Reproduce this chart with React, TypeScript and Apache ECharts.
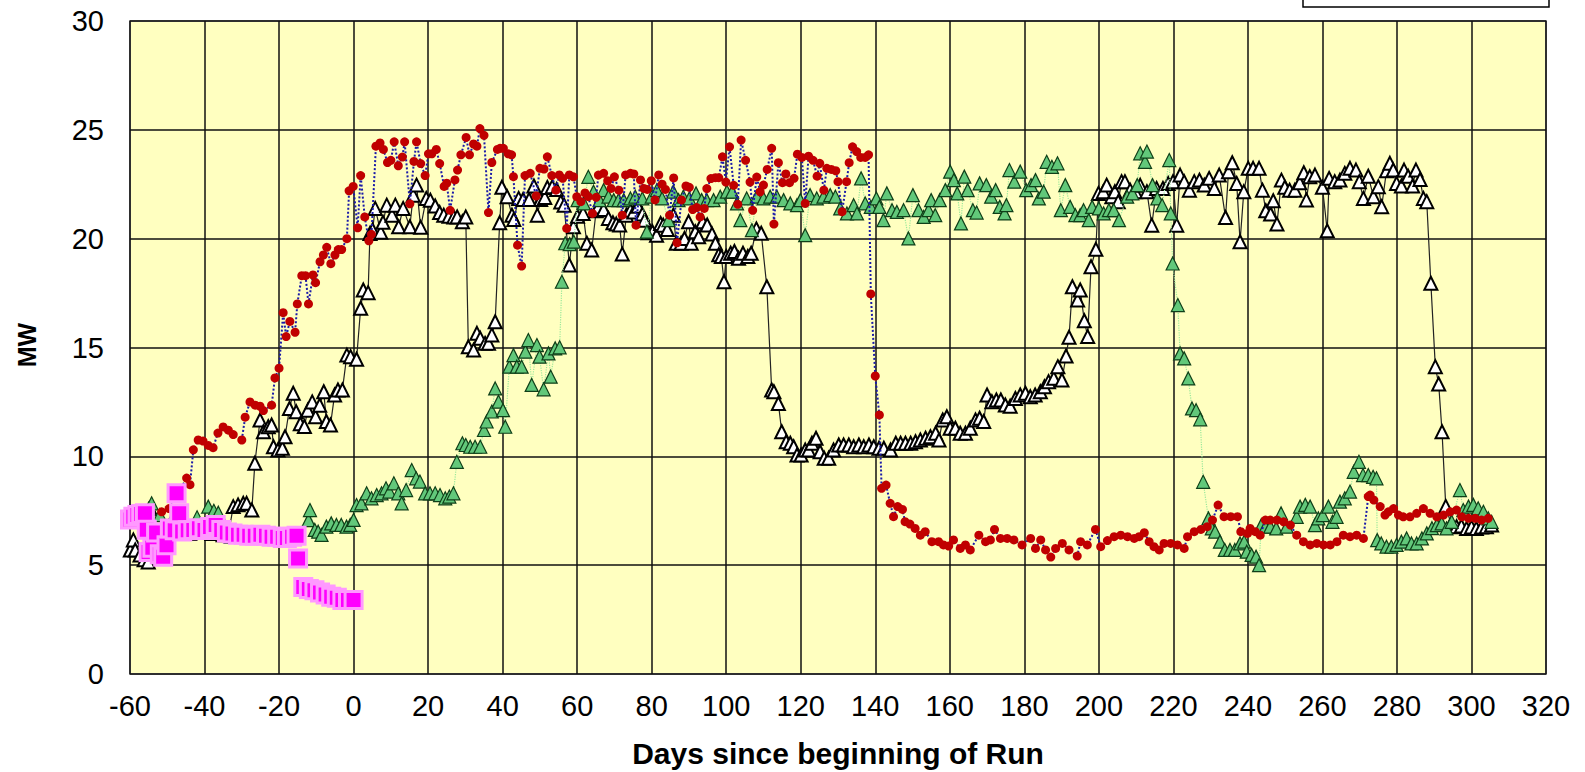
import React, { useEffect, useRef } from "react";
import * as echarts from "echarts";

// Axis settings
const xMin = -60;
const xMax = 320;
const xStep = 20;
const yMin = 0;
const yMax = 30;
const yStep = 5;
const xTitle = "Days since beginning of Run";
const yTitle = "MW";

// Series: white triangles (black line)
const whiteTriangleSeries: [number, number][] = [
  [-59.9, 5.7], [-59.1, 6.16], [-58.6, 5.7], [-57.3, 5.47], [-56.2, 5.25], [-55.1, 5.15], [-54.6, 7.6],
  [-53, 6.5], [-50, 6.4], [-47, 6.5], [-44, 6.45], [-41, 6.5], [-38, 6.45], [-35, 6.4], [-33.5, 6.5],
  [-32.3, 7.69], [-31, 7.77], [-29.6, 7.84], [-28.7, 7.84], [-27.3, 7.53], [-26.5, 9.68], [-25.1, 11.67],
  [-24.2, 11.13], [-22.9, 11.36], [-22, 11.44], [-21.5, 10.44], [-20.3, 10.29], [-19.1, 10.37], [-18.4, 10.9],
  [-17.2, 12.2], [-16.2, 12.9], [-15.4, 12.05], [-14.3, 11.5], [-13.2, 11.37], [-12.3, 12.12], [-11.1, 12.5],
  [-10.2, 11.82], [-9.1, 12.35], [-8, 12.97], [-7.3, 11.6], [-6.2, 11.44], [-5.1, 12.82], [-4.2, 13.05],
  [-3, 13.05], [-1.8, 14.65], [-0.8, 14.58], [0.8, 14.46], [1.9, 16.8], [2.6, 17.64], [3.9, 17.52],
  [4.4, 20.24], [5.1, 20.4], [5.8, 21.39], [7.3, 20.29], [7.9, 20.75], [8.9, 21.54], [10.3, 21.08],
  [11.2, 21.54], [12.1, 20.55], [13.3, 21.39], [15.1, 20.55], [16, 22.0], [16.9, 22.46], [18, 20.52],
  [19.5, 21.85], [20.6, 21.77], [21.9, 21.5], [23.1, 21.2], [24.2, 21.08], [25.6, 21.03], [26.9, 21.0],
  [27.8, 21.0], [29.2, 20.78], [30.1, 21.0], [30.8, 15.03], [32.2, 14.88], [33.1, 15.65], [34, 15.42],
  [35.3, 15.19], [36.2, 15.19], [37.1, 15.58], [38, 16.18], [39.2, 20.73], [39.8, 22.36], [41.2, 21.93],
  [42.5, 21.08], [43, 20.88], [44.3, 21.85], [45.5, 21.8], [47.1, 21.8], [48.4, 22.42], [49.3, 21.08],
  [50.2, 21.8], [51.3, 21.89], [52, 22.35], [53.3, 22.38], [54.5, 22.26], [55.6, 21.69], [56.5, 21.54],
  [57.9, 18.79], [59, 20.55], [60.1, 21.03], [61.6, 21.16], [62.6, 19.79], [63.9, 19.48], [65.1, 21.28],
  [65.7, 21.46], [67.1, 21.34], [68.4, 20.93], [69.6, 20.73], [70.5, 20.67], [71.4, 20.63], [72.1, 19.29],
  [73.2, 21.08], [74.3, 21.31], [75.2, 21.23], [76.3, 21.49], [77.5, 21.13], [78.1, 20.85], [79, 20.27],
  [80.2, 20.32], [81.3, 20.16], [82.4, 20.7], [83.1, 20.62], [84.2, 20.42], [85.8, 21.08], [86.6, 19.79],
  [87.9, 19.79], [88.8, 20.01], [89.9, 20.78], [90.6, 19.79], [91.7, 20.32], [92.6, 20.09], [93.7, 20.78],
  [94.9, 20.63], [96.2, 20.21], [97.1, 19.79], [98, 19.26], [98.7, 19.18], [99.4, 18.02], [100, 19.18],
  [101.2, 19.33], [102.2, 19.41], [103.3, 19.1], [104.5, 19.33], [105.8, 19.18], [106.7, 19.33],
  [108.1, 20.45], [109.4, 20.25], [110.9, 17.79], [112.2, 13.05], [112.8, 12.97], [114, 12.43],
  [114.9, 11.13], [116.1, 10.67], [117.2, 10.6], [118.1, 10.44], [119, 10.06], [120.1, 10.06],
  [121.2, 10.29], [122.1, 10.29], [123, 10.6], [124.1, 10.83], [125.2, 10.21], [126.3, 9.91],
  [127.5, 9.91], [128.8, 10.29], [130.2, 10.52], [131.5, 10.52], [132.9, 10.52], [134.2, 10.44],
  [135.6, 10.52], [136.9, 10.44], [138.3, 10.52], [139.6, 10.44], [141, 10.37], [142.3, 10.37],
  [144.1, 10.29], [145.5, 10.6], [146.8, 10.6], [148.1, 10.6], [149.5, 10.6], [150.8, 10.67],
  [152.1, 10.75], [153.5, 10.83], [154.8, 10.9], [156.2, 11.06], [157.1, 10.75], [158.1, 11.67],
  [159.2, 11.82], [160.1, 11.29], [161.5, 11.29], [162.8, 11.06], [164.2, 11.06], [165.5, 11.29],
  [166.9, 11.67], [168, 11.75], [169.1, 11.6], [170, 12.82], [171.3, 12.51], [172.5, 12.59],
  [173.7, 12.59], [174.9, 12.36], [176.2, 12.3], [177.6, 12.66], [178.9, 12.82], [180.3, 12.9],
  [181.6, 12.74], [182.9, 12.82], [184.3, 12.97], [185.4, 13.2], [186.5, 13.43], [187.9, 13.59],
  [189, 14.12], [190.1, 13.51], [191.2, 14.61], [192, 15.47], [192.9, 17.79], [194.3, 17.18],
  [195, 17.64], [196.1, 16.23], [197, 15.5], [197.9, 18.71], [199.2, 19.51], [199.9, 22.08],
  [201.2, 22.16], [202.1, 22.46], [203.5, 21.93], [204.3, 22.16], [205.2, 21.7], [206.1, 22.62],
  [207, 22.62], [208.4, 22.23], [209.8, 22.16], [211.1, 22.45], [212.9, 22.16], [214.2, 20.62],
  [215.5, 22.31], [217.2, 22.31], [218.6, 22.54], [219.9, 22.62], [220.9, 20.62], [221.8, 22.92],
  [222.9, 22.62], [224.3, 22.23], [225.6, 22.62], [227, 22.69], [228.3, 22.46], [229.6, 22.77],
  [231, 22.31], [232.3, 22.92], [234, 20.97], [234.8, 23.08], [235.8, 23.49], [237, 22.54],
  [237.9, 19.86], [238.9, 22.16], [240.1, 23.23], [241.4, 23.23], [243, 23.23], [243.9, 22.23],
  [244.8, 21.28], [246.1, 21.13], [246.8, 21.74], [247.8, 20.67], [249, 22.69], [249.9, 22.36],
  [251.2, 22.23], [252.6, 22.23], [253.9, 22.57], [255, 23.03], [255.7, 21.78], [256.6, 22.85],
  [258, 22.92], [260, 22.36], [261.3, 20.36], [261.8, 22.77], [263.3, 22.62], [264.7, 22.69],
  [266, 23.0], [267.4, 23.23], [269, 23.15], [269.9, 22.62], [271, 21.85], [272.3, 22.87],
  [273.7, 21.93], [275, 22.39], [275.9, 21.47], [277.2, 23.12], [278.1, 23.46], [279, 23.15],
  [279.9, 22.54], [281.2, 22.42], [281.9, 23.15], [283, 22.87], [284.2, 22.42], [285.1, 23.15],
  [286.2, 22.72], [287.1, 21.85], [288, 21.7], [289.1, 17.95], [290.3, 14.12], [291.2, 13.32],
  [292.1, 11.13], [293.1, 7.7], [294.5, 6.9], [296, 6.77], [297.3, 6.8], [298.7, 6.69], [300, 6.75],
  [301.3, 6.69], [302.7, 6.75], [304, 6.77], [305.4, 6.84],
];

// Series: green triangles (light green dotted line)
const greenTriangleSeries: [number, number][] = [
  [-56, 7.4], [-55, 7.6], [-54.2, 7.84], [-52, 7.3], [-49, 7.0], [-45, 6.9], [-42, 7.2], [-39, 7.69],
  [-37.5, 7.5], [-36.3, 7.41], [-33, 6.3], [-28, 6.3], [-22, 6.3], [-17, 6.3], [-12.1, 7.07],
  [-11.7, 7.53], [-10.4, 6.62], [-9.5, 6.54], [-8.6, 6.39], [-7.3, 6.77], [-6, 6.92], [-4.6, 6.85],
  [-3.3, 6.85], [-1.9, 6.77], [-0.9, 6.85], [0, 7.08], [0.8, 7.76], [2.1, 7.84], [3.5, 8.3], [4.8, 8.07],
  [6.2, 8.22], [7.5, 8.3], [8.7, 8.53], [9.6, 8.38], [10.8, 8.76], [12, 8.3], [12.9, 7.84], [14.1, 8.45],
  [15.6, 9.37], [16.8, 8.99], [17.8, 8.84], [19.2, 8.3], [20.5, 8.3], [21.9, 8.3], [23.2, 8.22],
  [24.6, 8.07], [25.7, 8.15], [26.8, 8.3], [27.7, 9.75], [29.2, 10.6], [30.1, 10.52], [31.3, 10.44],
  [32.6, 10.44], [34, 10.44], [35, 11.21], [35.7, 11.6], [37.1, 12.06], [38, 13.12], [38.9, 12.51],
  [40.1, 12.12], [40.7, 11.36], [41.8, 14.12], [42.9, 14.65], [43.8, 14.12], [45.1, 14.12], [46.1, 14.81],
  [46.9, 15.34], [47.8, 13.28], [49.2, 15.11], [49.9, 14.58], [51, 13.08], [52.3, 14.73], [52.9, 13.66],
  [54.1, 14.96], [55.3, 15.01], [55.9, 18.02], [56.8, 19.79], [58, 19.75], [59.1, 19.86], [60.1, 21.77],
  [61.8, 21.62], [63, 22.84], [64.4, 22.16], [66, 21.77], [67.1, 22.23], [68.4, 21.93], [69.8, 21.77],
  [71.1, 21.77], [72.5, 21.77], [74.3, 21.85], [75.6, 21.93], [77.5, 21.85], [78.7, 20.32], [80, 21.93],
  [81.4, 22.23], [82.8, 21.85], [84.5, 20.85], [85.8, 22.16], [87.2, 21.77], [88.5, 21.93], [90.1, 21.85],
  [91.9, 22.08], [93.4, 21.77], [94.8, 21.77], [96.6, 21.77], [98.4, 21.93], [100.2, 22.16], [101.6, 22.16],
  [102.9, 21.62], [103.8, 20.85], [105.5, 21.85], [106.9, 20.39], [108.2, 21.93], [110, 21.85],
  [111.8, 21.93], [113.6, 21.93], [115.4, 21.77], [117.2, 21.62], [119, 21.54], [119.9, 21.77],
  [121.2, 20.16], [122.5, 22.0], [124.3, 21.85], [126.1, 21.93], [127.9, 22.0], [129.3, 21.93],
  [130.6, 21.39], [132.4, 21.16], [134.2, 21.54], [135.1, 21.16], [136.2, 22.77], [137.3, 21.62],
  [138.8, 21.46], [140.3, 21.85], [141.1, 21.46], [142.2, 20.85], [143.1, 22.08], [144.5, 21.31],
  [145.8, 21.23], [147.6, 21.31], [148.9, 20.01], [150.1, 22.0], [151.6, 21.31], [153, 21.0],
  [154.3, 21.31], [155, 21.77], [156.1, 21.08], [157.3, 21.77], [158.8, 22.23], [160.1, 23.08],
  [161.1, 22.69], [162, 22.08], [163, 20.7], [163.9, 22.85], [164.8, 22.23], [166.2, 21.31],
  [167.2, 21.2], [168, 22.54], [169.8, 22.46], [171.1, 21.93], [172.3, 22.23], [173.4, 21.46],
  [174.7, 21.16], [175.2, 21.54], [176, 23.15], [177.3, 22.62], [178.9, 23.08], [180.5, 22.23],
  [181.8, 22.46], [183, 22.69], [183.9, 21.85], [185.2, 22.16], [186, 23.53], [187.4, 23.3],
  [188.9, 23.46], [189.8, 21.31], [191, 22.46], [192.3, 21.46], [193.7, 21.08], [195, 21.08],
  [195.9, 21.31], [197.3, 20.85], [198.2, 21.46], [200, 21.39], [201.3, 21.16], [202.7, 21.31],
  [204, 21.31], [205.4, 20.85], [207.6, 21.93], [209, 22.08], [210.3, 22.46], [211.1, 23.92],
  [212.4, 23.53], [212.9, 24.0], [214.4, 22.46], [215.7, 21.85], [217, 21.54], [218.9, 23.61],
  [219.3, 21.16], [219.8, 18.86], [221.2, 16.95], [221.8, 14.73], [222.9, 14.5], [224, 13.58],
  [225, 12.2], [226.1, 12.12], [227.2, 11.7], [228, 8.83], [229.4, 7.15], [230.3, 6.69], [231.2, 6.54],
  [232.5, 6.08], [233.8, 5.7], [235.2, 5.7], [236.5, 5.7], [237.9, 6.0], [239, 6.08], [239.7, 5.62],
  [241, 5.47], [242.2, 5.39], [243, 5.0], [243.6, 6.84], [244.7, 6.77], [246, 6.77], [247.6, 6.69],
  [248.9, 7.38], [250.4, 6.77], [253.1, 7.22], [254, 7.69], [255.4, 7.77], [256.7, 7.69], [258, 6.84],
  [258.9, 7.15], [260.1, 7.3], [261.6, 7.69], [262.7, 6.99], [263.8, 7.22], [264.7, 7.92], [266, 8.07],
  [267.4, 8.38], [268.4, 9.29], [269.8, 9.75], [270.9, 9.14], [272.3, 9.14], [273.6, 9.06], [274.5, 8.99],
  [274.7, 6.15], [275.8, 6.0], [277.2, 5.85], [278.5, 5.85], [279.9, 5.93], [281.2, 6.08], [282.6, 6.23],
  [283.9, 6.0], [285.3, 6.0], [286.7, 6.23], [288, 6.46], [289.4, 6.7], [290.7, 6.84], [292, 6.92],
  [293.3, 6.69], [294.7, 6.99], [296.9, 8.45], [297.8, 7.53], [299.2, 7.69], [300.5, 7.77], [301.8, 7.61],
  [303.2, 7.45], [304.5, 7.15], [305.4, 6.99],
];

// Series: red circles (blue dotted line)
const redCircleSeries: [number, number][] = [
  [-51.5, 7.45], [-49.5, 7.6], [-44.8, 9.0], [-43.9, 8.7], [-43, 10.3], [-41.7, 10.75], [-40.4, 10.7],
  [-39, 10.5], [-37.7, 10.4], [-36.4, 11.07], [-35, 11.35], [-33.6, 11.2], [-32.3, 11.0], [-30, 10.75],
  [-29.1, 11.8], [-27.8, 12.5], [-26.4, 12.35], [-25.1, 12.3], [-24.2, 12.1], [-22, 12.35], [-21.1, 13.6],
  [-20, 14.05], [-18.9, 16.6], [-18.1, 15.5], [-17.1, 16.2], [-15.7, 15.7], [-15.1, 17.0], [-13.9, 18.3],
  [-12.9, 18.3], [-12.1, 17.0], [-10.9, 18.33], [-10.2, 17.98], [-9, 18.94], [-8.1, 19.25], [-7.2, 19.6],
  [-6.1, 18.85], [-5, 19.25], [-4.1, 19.5], [-3.2, 19.5], [-1.8, 20.0], [-1.2, 22.2], [-0.1, 22.4],
  [1.1, 20.5], [1.9, 22.9], [3, 21.0], [4.1, 19.9], [4.8, 20.2], [6, 24.25], [7.1, 24.4], [8, 24.1],
  [9.1, 23.5], [10, 23.6], [10.9, 24.45], [12, 23.35], [13.1, 23.75], [13.7, 24.45], [15.1, 21.6],
  [16.2, 23.55], [16.9, 24.45], [18, 23.45], [19.2, 22.9], [20.1, 23.9], [21, 23.9], [22.2, 24.1],
  [23.1, 23.45], [24.3, 22.4], [25, 22.55], [25.9, 21.3], [27.2, 22.7], [27.9, 23.15], [28.8, 23.85],
  [30.2, 24.65], [31.1, 23.85], [32.2, 24.35], [33.1, 24.25], [33.9, 25.06], [35, 24.75], [36.2, 21.2],
  [37.1, 23.5], [38.6, 24.1], [39.3, 24.15], [40.2, 24.15], [41.5, 23.9], [42.4, 23.85], [42.9, 22.85],
  [44, 19.7], [45.1, 18.74], [46, 22.9], [47.4, 23.0], [49, 21.96], [50, 23.23], [51.1, 23.2], [52, 23.76],
  [53.2, 22.9], [54.3, 22.23], [55.2, 22.93], [56.1, 22.77], [57.2, 20.47], [57.9, 22.93], [59, 22.84],
  [59.9, 21.93], [61, 21.7], [62.1, 22.1], [63, 21.93], [64.1, 21.16], [65.1, 21.9], [65.7, 22.92],
  [67.1, 23.0], [68.2, 22.66], [69.1, 22.31], [70, 22.84], [71.2, 22.23], [72.1, 21.08], [73, 22.93],
  [74.3, 23.0], [75.2, 22.97], [75.8, 20.62], [77, 22.7], [77.9, 22.31], [78.8, 22.26], [79.9, 22.66],
  [80.9, 21.78], [81.9, 22.93], [82.8, 22.5], [83.7, 22.26], [84.8, 21.08], [85.9, 22.79], [86.8, 19.81],
  [88, 21.78], [89.2, 22.42], [90.1, 22.36], [91, 21.34], [92.1, 21.43], [93, 21.0], [94.1, 21.39],
  [94.8, 22.3], [95.9, 22.76], [97.1, 22.8], [98, 22.8], [99, 23.76], [99.9, 22.6], [100.9, 24.22],
  [102, 22.45], [103.1, 21.58], [104, 24.53], [105.2, 23.6], [106.4, 22.6], [107.1, 21.3], [108.2, 22.83],
  [109.1, 22.15], [110, 22.46], [111, 23.18], [112.2, 24.15], [112.8, 20.67], [114, 23.49], [115.1, 22.57],
  [116, 22.97], [117, 22.57], [118.2, 22.77], [119.1, 23.88], [120.3, 23.73], [121.2, 21.62], [122.1, 23.79],
  [123.3, 23.6], [124.4, 22.87], [125.1, 23.46], [126.2, 22.23], [127, 23.23], [128.2, 23.18], [129.4, 23.12],
  [130, 22.62], [131.1, 21.24], [132.3, 22.62], [133, 23.49], [133.9, 24.22], [135, 24.0], [136.1, 23.73],
  [137.3, 23.73], [138.2, 23.85], [138.8, 17.46], [140, 13.69], [141.1, 11.9], [141.7, 8.53], [142.9, 8.68],
  [144, 7.84], [144.9, 7.23], [146, 7.69], [147.3, 7.56], [148, 7.0], [149.3, 6.89], [150.7, 6.69],
  [152.1, 6.38], [153.4, 6.54], [155.2, 6.08], [157, 6.08], [158.3, 5.93], [159.7, 5.88], [161, 6.16],
  [162.8, 5.77], [164.2, 5.93], [165.5, 5.7], [167.8, 6.38], [169.6, 6.08], [170.9, 6.16], [172, 6.64],
  [173.6, 6.23], [175.4, 6.23], [177.2, 6.16], [179.4, 5.93], [181.7, 6.23], [183, 5.77], [184.4, 6.16],
  [185.7, 5.7], [187.1, 5.37], [188.4, 5.77], [190.2, 6.0], [192, 5.7], [194.2, 5.42], [195.1, 6.08],
  [196.9, 5.93], [199.1, 6.64], [200.5, 5.85], [202.3, 6.13], [204.1, 6.31], [205.9, 6.38], [207.7, 6.31],
  [209.5, 6.23], [210.8, 6.31], [212.2, 6.49], [213.5, 6.08], [214.8, 5.85], [216.2, 5.7], [217.5, 6.0],
  [219.3, 6.0], [221.1, 5.93], [222.9, 5.77], [223.8, 6.31], [225.6, 6.54], [227.4, 6.64], [229.1, 6.77],
  [230.5, 7.07], [232, 7.76], [233.6, 7.23], [235.4, 7.23], [237.2, 7.23], [238.1, 6.54], [239.9, 6.46],
  [240.6, 6.69], [242, 6.54], [243.3, 6.38], [244.7, 7.07], [246, 7.07], [247.8, 7.07], [249.6, 6.99],
  [251.4, 6.84], [253.1, 6.38], [254.9, 6.08], [256.7, 5.93], [258.5, 6.0], [260.3, 5.93], [262.1, 5.93],
  [263.9, 6.08], [265.6, 6.38], [267.4, 6.31], [269.2, 6.38], [271, 6.23], [272.3, 8.15], [272.8, 8.22],
  [273.8, 7.99], [275.5, 7.69], [276.8, 7.3], [277.7, 7.45], [279.1, 7.6], [280.4, 7.3], [281.7, 7.22],
  [283.5, 7.22], [285.3, 7.38], [287.1, 7.6], [288.9, 7.38], [290.7, 7.22], [292.5, 7.3], [294.3, 7.45],
  [296, 7.53], [297.4, 7.22], [299.2, 7.15], [301, 7.15], [302.7, 7.07], [304.5, 7.15],
];

// Series: magenta squares
const magentaSquareSeries: [number, number][] = [
  [-60, 7.1], [-59.1, 7.23], [-58, 7.3], [-57, 7.35], [-56, 7.38], [-55.5, 6.63], [-55, 5.6], [-54, 5.8],
  [-53, 6.5], [-52, 5.5], [-51.1, 5.39], [-50.2, 5.92], [-49.3, 6.69], [-48, 6.6], [-47.5, 8.3],
  [-46.8, 7.38], [-46, 6.55], [-44.5, 6.6], [-43, 6.62], [-41.5, 6.7], [-40, 6.62], [-38.5, 6.75],
  [-37, 6.85], [-35.5, 6.62], [-34, 6.5], [-32.5, 6.45], [-31, 6.4], [-29.5, 6.4], [-28, 6.35],
  [-26.5, 6.35], [-25, 6.4], [-23.5, 6.35], [-22, 6.3], [-20.5, 6.3], [-19, 6.25], [-17.9, 6.25],
  [-16.5, 6.3], [-15.3, 6.35], [-14.9, 5.31], [-13.5, 4.0], [-12, 3.9], [-10.5, 3.85], [-9, 3.75],
  [-7.5, 3.65], [-6, 3.55], [-4.5, 3.5], [-3, 3.4], [-1.5, 3.4], [0, 3.4],
];

const FONT = '"Liberation Sans", Arial, sans-serif';

export default function App() {
  const ref = useRef<HTMLDivElement>(null);

  useEffect(() => {
    if (!ref.current) return;
    const chart = echarts.init(ref.current, undefined, { renderer: "svg" });
    chart.setOption({
      animation: false,
      backgroundColor: "#ffffff",
      grid: {
        left: 130,
        top: 21,
        width: 1416,
        height: 653,
        show: true,
        backgroundColor: "#FFFFC0",
        borderColor: "#8a8a8a",
        borderWidth: 2,
      },
      xAxis: {
        type: "value",
        min: xMin,
        max: xMax,
        interval: xStep,
        axisLine: { show: false },
        axisTick: { show: false },
        splitLine: { show: true, lineStyle: { color: "#111", width: 1.5 } },
        axisLabel: { color: "#000", fontSize: 29, fontFamily: FONT, margin: 17 },
      },
      yAxis: {
        type: "value",
        min: yMin,
        max: yMax,
        interval: yStep,
        axisLine: { show: false },
        axisTick: { show: false },
        splitLine: { show: true, lineStyle: { color: "#111", width: 1.5 } },
        axisLabel: { color: "#000", fontSize: 29, fontFamily: FONT, margin: 26 },
      },
      graphic: [
        {
          type: "rect",
          shape: { x: 1303, y: -12, width: 246, height: 19 },
          style: { fill: "#fff", stroke: "#000", lineWidth: 1.5 },
        },
        {
          type: "text",
          x: 838,
          y: 753,
          style: {
            text: xTitle,
            fontSize: 30,
            fontWeight: "bold",
            fontFamily: FONT,
            fill: "#000",
            align: "center",
            verticalAlign: "middle",
          },
        },
        {
          type: "text",
          x: 27,
          y: 345,
          rotation: Math.PI / 2,
          style: {
            text: yTitle,
            fontSize: 25,
            fontWeight: "bold",
            fontFamily: FONT,
            fill: "#000",
            align: "center",
            verticalAlign: "middle",
          },
        },
      ],
      series: [
        {
          type: "line",
          data: whiteTriangleSeries,
          z: 2,
          symbol: "triangle",
          symbolSize: 13,
          showSymbol: true,
          itemStyle: { color: "#ffffff", borderColor: "#000", borderWidth: 2 },
          lineStyle: { color: "#222", width: 1.2 },
        },
        {
          type: "line",
          data: greenTriangleSeries,
          z: 3,
          symbol: "triangle",
          symbolSize: 13,
          showSymbol: true,
          itemStyle: { color: "#62C87A", borderColor: "#0F3F18", borderWidth: 1.2 },
          lineStyle: { color: "#9BE89B", width: 1.2, type: "dotted" },
        },
        {
          type: "line",
          data: redCircleSeries,
          z: 4,
          symbol: "circle",
          symbolSize: 9,
          showSymbol: true,
          itemStyle: { color: "#C00000", borderWidth: 0 },
          lineStyle: { color: "#1A1AA8", width: 2, type: "dotted" },
        },
        {
          type: "scatter",
          data: magentaSquareSeries,
          z: 5,
          symbol: "rect",
          symbolSize: 17,
          itemStyle: { color: "#FF00FF", borderColor: "#FF99FF", borderWidth: 3, opacity: 1 },
        },
      ],
    });
    return () => chart.dispose();
  }, []);

  return (
    <div
      ref={ref}
      style={{ position: "absolute", left: 0, top: 0, width: 1585, height: 772 }}
    />
  );
}
